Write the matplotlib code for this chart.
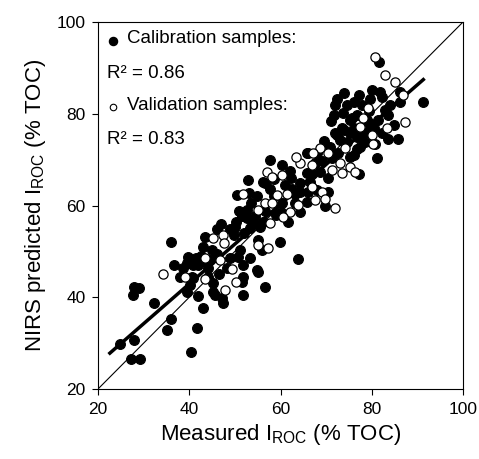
import matplotlib
matplotlib.use("Agg")
import matplotlib.pyplot as plt
import numpy as np

plt.rcParams['font.family'] = ['Liberation Sans', 'DejaVu Sans']
plt.rcParams['mathtext.fontset'] = 'custom'
plt.rcParams['mathtext.rm'] = 'Liberation Sans'

# calibration samples (filled)
cal_x = [27.96, 29.05, 27.74, 32.34, 39.44, 41.85, 42.95, 36.0, 35.06, 41.63, 24.8, 27.9, 40.38, 27.17, 29.14,
         35.9, 43.45, 48.9, 50.2, 49.7, 52.6, 53.3, 43.1, 44.9, 39.8, 36.7, 38.7, 40.9, 42.0, 44.2, 40.5, 40.2,
         45.3, 45.3, 47.1, 47.5, 51.5, 51.8, 48.2, 48.9, 50.7, 53.3, 51.1, 54.8,
         57.7, 60.3, 52.9, 56.6, 57.7, 61.0, 64.3, 65.7, 63.2, 50.4, 52.6, 54.0, 56.2, 55.5, 60.3, 64.3, 61.7,
         50.0, 55.1, 55.9, 59.9, 63.8, 51.8,
         73.8, 75.2, 76.7, 71.9, 73.0, 75.2, 76.7, 70.8, 76.7, 75.2, 65.7, 67.6, 56.2, 62.4, 66.5, 68.7, 70.5,
         70.5, 64.3, 67.9, 65.7, 63.2, 69.8,
         81.6, 81.8, 82.2, 77.1, 79.6, 72.3, 71.9, 74.5, 77.8, 84.0, 83.6, 86.2, 75.6, 78.9, 81.4, 76.0, 78.9,
         82.2, 83.6, 85.8, 72.3, 74.5, 77.4, 80.7, 66.1, 76.0, 81.1, 91.3, 86.2,
         45.6, 51.8, 56.6, 55.1, 40.9, 77.2, 71.2,
         51.5, 53.5, 54.8, 47.0, 46.0, 58.5, 62.0, 68.0, 71.0, 73.5, 79.5, 80.5, 74.0, 69.5, 60.0, 66.0, 38.0,
         42.5, 46.5, 44.0,
         41.5, 43.0, 39.5, 44.5, 46.0, 52.0, 54.5, 56.5, 51.0, 53.0, 58.5, 59.0, 62.5, 67.0, 69.2, 72.5, 74.0,
         77.5, 79.5, 76.2, 80.0, 82.8, 78.5, 71.8, 84.8]
cal_y = [42.3, 41.95, 40.5, 38.7, 41.2, 40.3, 37.6, 35.2, 32.9, 33.4, 29.8, 30.7, 28.1, 26.5, 26.5,
         52.1, 53.2, 54.9, 56.5, 53.6, 57.2, 55.0, 51.0, 50.3, 48.8, 47.0, 46.3, 47.0, 47.0, 46.3, 44.5, 42.7,
         43.0, 41.2, 39.8, 38.7, 43.4, 40.5, 46.3, 48.5, 48.8, 48.5, 50.3, 45.9,
         69.9, 68.8, 65.6, 64.8, 63.7, 64.5, 64.8, 67.0, 62.6, 62.3, 59.0, 56.5, 56.5, 55.4, 60.5, 58.6, 56.5,
         55.4, 52.5, 50.3, 52.1, 48.3, 47.0,
         80.1, 78.6, 79.7, 75.7, 74.3, 75.7, 75.0, 72.8, 72.4, 70.6, 71.4, 69.2, 65.2, 65.9, 65.2, 67.4, 65.9,
         63.0, 63.0, 63.4, 60.8, 60.5, 59.8,
         91.3, 84.8, 83.7, 84.1, 83.3, 83.3, 81.9, 81.9, 81.9, 81.9, 79.7, 84.8, 79.0, 78.6, 78.6, 76.8, 76.1,
         75.7, 74.6, 74.6, 75.4, 73.9, 72.8, 73.5, 71.4, 71.0, 70.3, 82.6, 82.6,
         40.5, 44.5, 42.3, 45.6, 44.1, 66.8, 70.3,
         57.8, 60.5, 62.0, 56.0, 54.8, 62.0, 67.5, 71.5, 78.5, 77.0, 80.5, 77.0, 84.5, 74.0, 58.5, 63.0, 44.5,
         49.0, 45.0, 44.5,
         48.5, 47.8, 47.5, 48.2, 49.5, 54.0, 57.8, 58.8, 58.8, 62.8, 65.8, 58.0, 63.5, 66.8, 69.8, 71.5, 76.5,
         75.0, 78.0, 82.5, 85.2, 80.8, 73.8, 79.8, 77.5]

# validation samples (open)
val_x = [45.3, 47.3, 47.6, 43.5, 46.7, 34.3, 39.1, 43.5, 49.3, 50.2, 47.8,
         57.0, 58.1, 60.3, 64.3, 51.8, 59.2, 61.4, 56.6, 58.1, 55.1, 63.9, 62.1, 60.6, 57.7, 55.1, 57.3,
         68.7, 70.5, 74.1, 66.8, 73.0, 75.2, 76.3, 71.2, 73.4, 66.8, 69.0, 69.8, 67.6, 71.9,
         80.7, 82.9, 85.1, 86.9, 79.2, 78.1, 77.4, 83.3, 87.3, 80.0, 80.3, 67.2, 63.5]
val_y = [53.0, 53.6, 51.8, 48.6, 48.1, 45.0, 44.5, 44.0, 46.1, 43.4, 41.6,
         67.4, 66.3, 66.6, 69.2, 62.6, 62.3, 62.6, 60.5, 60.5, 59.0, 60.1, 58.6, 57.5, 56.1, 51.4, 50.7,
         72.6, 71.4, 72.6, 68.8, 69.2, 68.4, 67.4, 67.7, 67.0, 64.1, 63.0, 61.5, 61.2, 59.4,
         92.4, 88.4, 87.0, 84.1, 81.2, 79.0, 77.2, 76.8, 78.3, 75.4, 73.5, 71.4, 70.6]

# regression line
fit_slope = 0.868
fit_intercept = 8.2
fit_range = [22.6, 91.3]

fig = plt.figure(figsize=(4.79, 4.59), dpi=100)
ax = fig.add_axes([0.2046, 0.1525, 0.762, 0.7995])

ax.plot([20, 100], [20, 100], color='black', linewidth=0.8, zorder=1)
fx = np.array(fit_range)
ax.plot(fx, fit_slope * fx + fit_intercept, color='black', linewidth=2.5, zorder=2)

ax.scatter(cal_x, cal_y, s=50, facecolor='black', edgecolor='black', linewidth=0.8, zorder=3)
ax.scatter(val_x, val_y, s=44, facecolor='white', edgecolor='black', linewidth=0.9, zorder=4)

ax.set_xlim(20, 100)
ax.set_ylim(20, 100)
ax.set_xticks([20, 40, 60, 80, 100])
ax.set_yticks([20, 40, 60, 80, 100])
ax.tick_params(direction='out', length=4, width=0.8, labelsize=12.5, pad=5)
for sp in ax.spines.values():
    sp.set_linewidth(0.8)

ax.set_xlabel(r'Measured I$_\mathregular{ROC}$ (% TOC)', fontsize=16, labelpad=4)
ax.set_ylabel(r'NIRS predicted I$_\mathregular{ROC}$ (% TOC)', fontsize=16, labelpad=6)

# in-plot legend text
ax.scatter([0.040], [0.949], s=34, facecolor='black', edgecolor='black', transform=ax.transAxes, clip_on=False, zorder=5)
ax.text(0.079, 0.954, 'Calibration samples:', transform=ax.transAxes, fontsize=13.5, va='center', ha='left')
ax.text(0.0255, 0.861, 'R² = 0.86', transform=ax.transAxes, fontsize=13.5, va='center', ha='left')
ax.scatter([0.040], [0.769], s=22, facecolor='white', edgecolor='black', linewidth=0.8, transform=ax.transAxes, clip_on=False, zorder=5)
ax.text(0.079, 0.772, 'Validation samples:', transform=ax.transAxes, fontsize=13.5, va='center', ha='left')
ax.text(0.0255, 0.681, 'R² = 0.83', transform=ax.transAxes, fontsize=13.5, va='center', ha='left')

fig.savefig('out.png', dpi=100)
